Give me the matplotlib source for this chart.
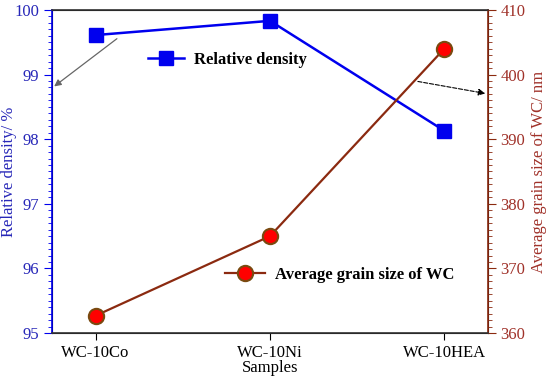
import matplotlib.pyplot as plt
from matplotlib.ticker import MultipleLocator

plt.rcParams['font.family'] = ['Liberation Serif', 'DejaVu Serif']

samples = ['WC-10Co', 'WC-10Ni', 'WC-10HEA']
density = [99.61, 99.83, 98.13]
grain = [362.7, 375.0, 404.0]

blue = '#0000ee'
brown = '#8b2a10'
blue_txt = '#2727b8'
brown_txt = '#a0322a'

fig = plt.figure(figsize=(5.5, 3.79), dpi=100)
ax = fig.add_axes([0.0945, 0.121, 0.7927, 0.853])
ax2 = ax.twinx()

x = list(range(len(samples)))
l1, = ax.plot(x, density, color=blue, linewidth=1.8, marker='s', markersize=10,
              markerfacecolor=blue, markeredgecolor=blue, label='Relative density')
l2, = ax2.plot(x, grain, color=brown, linewidth=1.6, marker='o', markersize=11,
               markerfacecolor='#ff0000', markeredgecolor='#7a4a10', markeredgewidth=1.5,
               label='Average grain size of WC')

ax.set_xlim(-0.25, 2.25)
ax.set_ylim(95, 100)
ax2.set_ylim(360, 410)
ax.set_xticks(x)
ax.set_xticklabels(samples, fontsize=12)
ax.set_xlabel('Samples', fontsize=12, labelpad=-1)

ax.yaxis.set_major_locator(MultipleLocator(1))
ax.yaxis.set_minor_locator(MultipleLocator(0.1))
ax2.yaxis.set_major_locator(MultipleLocator(10))
ax2.yaxis.set_minor_locator(MultipleLocator(1))

ax.tick_params(axis='y', which='both', direction='out', colors=blue, labelcolor=blue_txt, labelsize=12)
ax.tick_params(axis='y', which='major', length=6, pad=3)
ax.tick_params(axis='y', which='minor', length=3)
ax.tick_params(axis='x', direction='out', length=5, labelsize=12)
ax2.tick_params(axis='y', which='both', direction='out', colors=brown, labelcolor=brown_txt, labelsize=12)
ax2.tick_params(axis='y', which='major', length=6, pad=3)
ax2.tick_params(axis='y', which='minor', length=3)

ax.set_ylabel('Relative density/ %', color=blue_txt, fontsize=12, labelpad=-2)
ax2.set_ylabel('Average grain size of WC/ nm', color=brown_txt, fontsize=12, labelpad=4)

ax2.spines['left'].set_color(blue)
ax2.spines['right'].set_color(brown)
ax2.spines['top'].set_color('#333333')
ax2.spines['bottom'].set_color('#333333')
for s in ax2.spines.values():
    s.set_linewidth(1.2)

ax.legend(handles=[l1], loc='center left', bbox_to_anchor=(0.200, 0.845), frameon=False,
          prop={'weight': 'bold', 'size': 12}, borderpad=0, handlelength=2.2, handletextpad=0.6)
ax2.legend(handles=[l2], loc='center left', bbox_to_anchor=(0.378, 0.180), frameon=False,
           prop={'weight': 'bold', 'size': 12}, borderpad=0, handlelength=2.4, handletextpad=0.6)

ax2.annotate('', xy=(0.0, 0.758), xytext=(0.154, 0.916), xycoords='axes fraction',
             arrowprops=dict(arrowstyle='-|>', color='#666666', lw=0.9, mutation_scale=10))
ax2.annotate('', xy=(1.0, 0.740), xytext=(0.833, 0.780), xycoords='axes fraction',
             arrowprops=dict(arrowstyle='-|>', color='black', lw=0.8, linestyle='--', mutation_scale=10))

fig.savefig('out.png', dpi=100)
